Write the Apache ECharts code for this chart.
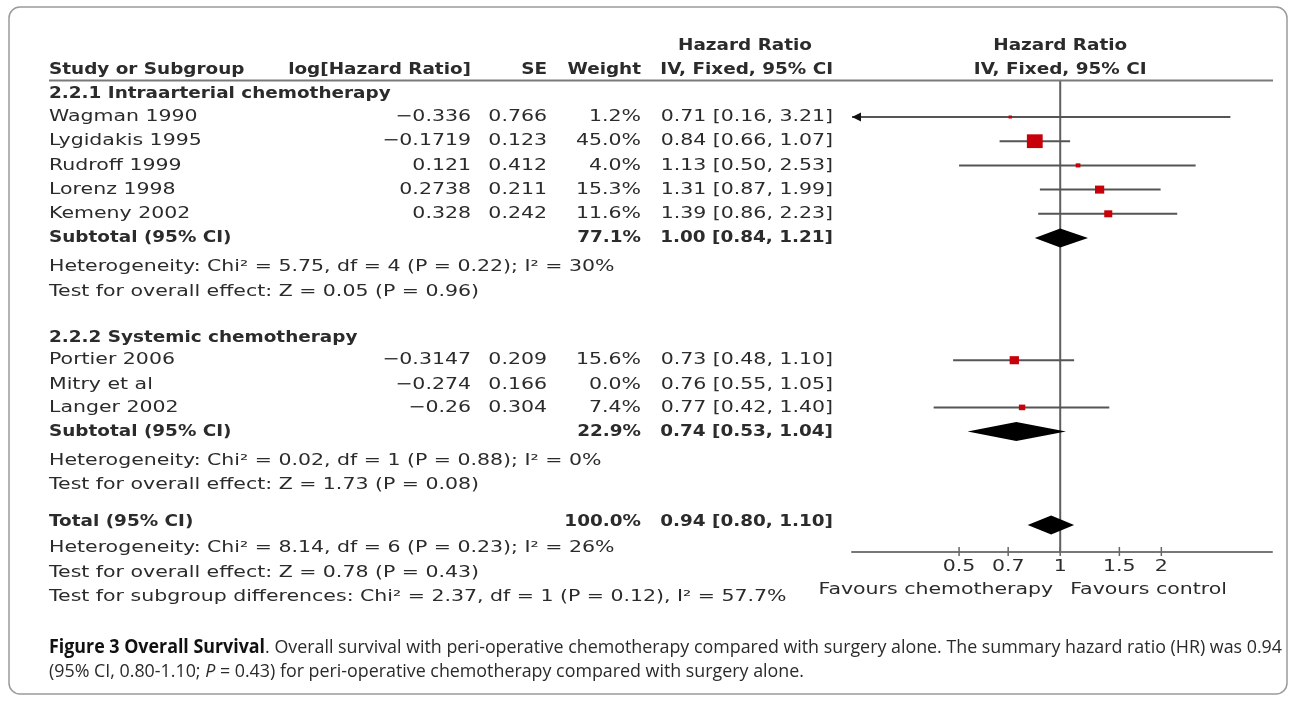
<!DOCTYPE html>
<html>
<head>
<meta charset="utf-8">
<script src="https://cdn.jsdelivr.net/npm/echarts@6/dist/echarts.min.js"></script>
<style>
  html, body { margin: 0; padding: 0; background: #fff; }
  #chart { width: 1291px; height: 708px; }
</style>
</head>
<body>
<div id="chart"></div>
<script>
// ---- Subgroup 2.2.1: intra-arterial chemotherapy ----
const group1Studies = ['Wagman 1990', 'Lygidakis 1995', 'Rudroff 1999', 'Lorenz 1998', 'Kemeny 2002'];
const group1LogHR  = ['\u22120.336', '\u22120.1719', '0.121', '0.2738', '0.328'];
const group1SE     = ['0.766', '0.123', '0.412', '0.211', '0.242'];
const group1Weight = [1.2, 45.0, 4.0, 15.3, 11.6];
const group1HR     = [0.71, 0.84, 1.13, 1.31, 1.39];
const group1Lower  = [0.16, 0.66, 0.50, 0.87, 0.86];
const group1Upper  = [3.21, 1.07, 2.53, 1.99, 2.23];

// ---- Subgroup 2.2.2: systemic chemotherapy ----
const group2Studies = ['Portier 2006', 'Mitry et al', 'Langer 2002'];
const group2LogHR  = ['\u22120.3147', '\u22120.274', '\u22120.26'];
const group2SE     = ['0.209', '0.166', '0.304'];
const group2Weight = [15.6, 0.0, 7.4];
const group2HR     = [0.73, 0.76, 0.77];
const group2Lower  = [0.48, 0.55, 0.42];
const group2Upper  = [1.10, 1.05, 1.40];

// ---- Pooled estimates: subtotal 1, subtotal 2, total ----
const pooledLabels = ['Subtotal (95% CI)', 'Subtotal (95% CI)', 'Total (95% CI)'];
const pooledWeight = [77.1, 22.9, 100.0];
const pooledHR     = [1.00, 0.74, 0.94];
const pooledLower  = [0.84, 0.53, 0.80];
const pooledUpper  = [1.21, 1.04, 1.10];

// ---- Heterogeneity and test lines ----
const group1Stats = ['Heterogeneity: Chi\u00b2 = 5.75, df = 4 (P = 0.22); I\u00b2 = 30%',
                     'Test for overall effect: Z = 0.05 (P = 0.96)'];
const group2Stats = ['Heterogeneity: Chi\u00b2 = 0.02, df = 1 (P = 0.88); I\u00b2 = 0%',
                     'Test for overall effect: Z = 1.73 (P = 0.08)'];
const totalStats  = ['Heterogeneity: Chi\u00b2 = 8.14, df = 6 (P = 0.23); I\u00b2 = 26%',
                     'Test for overall effect: Z = 0.78 (P = 0.43)',
                     'Test for subgroup differences: Chi\u00b2 = 2.37, df = 1 (P = 0.12), I\u00b2 = 57.7%'];

// ---- Axis ticks ----
const axisTicks  = [0.5, 0.7, 1, 1.5, 2];
const tickLabels = ['0.5', '0.7', '1', '1.5', '2'];

// ---- Layout: vertical slot of every line (row units on the y axis) ----
const ROW = {
  head1: -1.93, head2: -0.94,
  g1Title: 0.05, g1: [1, 2, 3, 4, 5], sub1: 6, g1Stats: [7.2, 8.23],
  g2Title: 10.13, g2: [11.05, 12.05, 13.0], sub2: 14.0, g2Stats: [15.2, 16.2],
  total: 17.74, totalMark: 17.86, totalStats: [18.8, 19.84, 20.83]
};
const Y_MIN = -0.4876, Y_MAX = 18.975;
const COL = { study: 49, logHR: 471, se: 547, weight: 641, ci: 833, ciHead: 745 };
const FONT = 'DejaVu Sans';
const SX_BOLD = 1.15;     // horizontal stretch of bold lettering
const SX_REG = 1.28;      // horizontal stretch of regular lettering
const INK = '#2b2b2b';

const fmt2 = v => v.toFixed(2);
const ciText = (hr, lo, hi) => `${fmt2(hr)} [${fmt2(lo)}, ${fmt2(hi)}]`;

// rows for the forest series: [lower, estimate, upper, slot, weight, kind(0 study / 1 pooled)]
const forestData = [];
group1Studies.forEach((s, i) => forestData.push([group1Lower[i], group1HR[i], group1Upper[i], ROW.g1[i], group1Weight[i], 0]));
group2Studies.forEach((s, i) => forestData.push([group2Lower[i], group2HR[i], group2Upper[i], ROW.g2[i], group2Weight[i], 0]));
const pooledSlots = [ROW.sub1, ROW.sub2, ROW.totalMark];
pooledHR.forEach((v, i) => forestData.push([pooledLower[i], v, pooledUpper[i], pooledSlots[i], pooledWeight[i], 1]));

function renderForest(params, api) {
  const lo = api.value(0), est = api.value(1), hi = api.value(2);
  const slot = api.value(3), w = api.value(4), kind = api.value(5);
  const cs = params.coordSys;
  const left = cs.x, right = cs.x + cs.width;
  const pLo = api.coord([lo, slot]), pEst = api.coord([est, slot]), pHi = api.coord([hi, slot]);
  const y = pEst[1];
  if (kind === 1) {
    const h = 9.5;
    return {
      type: 'polygon',
      shape: { points: [[pLo[0], y], [pEst[0], y - h], [pHi[0], y], [pEst[0], y + h]] },
      style: { fill: '#000' }
    };
  }
  if (!(w > 0)) return null;
  const x0 = Math.max(pLo[0], left), x1 = Math.min(pHi[0], right);
  const children = [{
    type: 'line', shape: { x1: x0, y1: y, x2: x1, y2: y },
    style: { stroke: '#555', lineWidth: 2 }
  }];
  if (pLo[0] < left) {
    children.push({ type: 'polygon', shape: { points: [[left, y], [left + 9, y - 4.5], [left + 9, y + 4.5]] }, style: { fill: '#111' } });
  }
  if (pHi[0] > right) {
    children.push({ type: 'polygon', shape: { points: [[right, y], [right - 9, y - 4.5], [right - 9, y + 4.5]] }, style: { fill: '#111' } });
  }
  const s = Math.max(3, 2.05 * Math.sqrt(w));
  children.push({
    type: 'rect', shape: { x: pEst[0] - s * 0.575, y: y - s / 2, width: s * 1.15, height: s },
    style: { fill: '#c8000a' }
  });
  return { type: 'group', children };
}

function renderRefLine(params, api) {
  const cs = params.coordSys;
  const x = api.coord([api.value(0), 0])[0];
  return { type: 'line', shape: { x1: x, y1: cs.y, x2: x, y2: cs.y + cs.height },
           style: { stroke: '#5f5f5f', lineWidth: 2 } };
}

// short tick marks crossing the axis line
function renderTick(params, api) {
  const p = api.coord([api.value(0), Y_MAX]);
  return { type: 'line', shape: { x1: p[0], y1: p[1] - 5, x2: p[0], y2: p[1] + 4 },
           style: { stroke: '#666', lineWidth: 1.5 } };
}

const chart = echarts.init(document.getElementById('chart'), null, { renderer: 'canvas' });

const option = {
  animation: false,
  backgroundColor: '#fff',
  grid: { left: 852, width: 420, top: 81, height: 471, containLabel: false },
  xAxis: {
    type: 'log', logBase: 10, min: 0.24, max: 4.27, position: 'bottom',
    axisLine: { show: true, onZero: false, lineStyle: { color: '#777', width: 2 } },
    axisTick: { show: false },
    axisLabel: { show: false },
    splitLine: { show: false }, minorTick: { show: false }
  },
  yAxis: { type: 'value', inverse: true, min: Y_MIN, max: Y_MAX, show: false },
  series: [
    { type: 'custom', renderItem: renderRefLine, data: [[1, 0]], encode: { x: 0, y: 1 }, z: 1, silent: true, clip: false },
    { type: 'custom', renderItem: renderTick, data: axisTicks.map(t => [t, Y_MAX]), encode: { x: 0, y: 1 }, z: 2, silent: true, clip: false },
    { type: 'custom', renderItem: renderForest, data: forestData,
      encode: { x: [0, 1, 2], y: 3 }, z: 3, silent: true, clip: false }
  ]
};
chart.setOption(option);

// ---- Table lettering, placed on the same scales as the plot ----
const yOf = slot => chart.convertToPixel({ yAxisIndex: 0 }, slot);
const xOf = v => chart.convertToPixel({ xAxisIndex: 0 }, v);

function txt(x, y, s, o = {}) {
  return {
    type: 'text', x: x, y: y,
    scaleX: o.bold ? SX_BOLD : SX_REG, scaleY: 1, silent: true, z: 10,
    style: {
      text: s, fill: o.color || INK,
      fontFamily: FONT, fontSize: o.size || 16, fontWeight: o.bold ? 'bold' : 'normal',
      align: o.align || 'left', verticalAlign: 'middle'
    }
  };
}
const row = (x, slot, s, o) => txt(x, yOf(slot), s, o);

const g = [];
// column headers
g.push(row(COL.ciHead, ROW.head1, 'Hazard Ratio', { bold: true, align: 'center' }));
g.push(row(COL.study, ROW.head2, 'Study or Subgroup', { bold: true }));
g.push(row(COL.logHR, ROW.head2, 'log[Hazard Ratio]', { bold: true, align: 'right' }));
g.push(row(COL.se, ROW.head2, 'SE', { bold: true, align: 'right' }));
g.push(row(COL.weight, ROW.head2, 'Weight', { bold: true, align: 'right' }));
g.push(row(COL.ci, ROW.head2, 'IV, Fixed, 95% CI', { bold: true, align: 'right' }));
const x1 = xOf(1);
g.push(row(x1, ROW.head1, 'Hazard Ratio', { bold: true, align: 'center' }));
g.push(row(x1, ROW.head2, 'IV, Fixed, 95% CI', { bold: true, align: 'center' }));

function studyRows(names, logs, ses, ws, hrs, los, his, slots) {
  names.forEach((n, i) => {
    const s = slots[i];
    g.push(row(COL.study, s, n));
    g.push(row(COL.logHR, s, logs[i], { align: 'right' }));
    g.push(row(COL.se, s, ses[i], { align: 'right' }));
    g.push(row(COL.weight, s, ws[i].toFixed(1) + '%', { align: 'right' }));
    g.push(row(COL.ci, s, ciText(hrs[i], los[i], his[i]), { align: 'right' }));
  });
}
function pooledRow(i, slot) {
  g.push(row(COL.study, slot, pooledLabels[i], { bold: true }));
  g.push(row(COL.weight, slot, pooledWeight[i].toFixed(1) + '%', { bold: true, align: 'right' }));
  g.push(row(COL.ci, slot, ciText(pooledHR[i], pooledLower[i], pooledUpper[i]), { bold: true, align: 'right' }));
}

g.push(row(COL.study, ROW.g1Title, '2.2.1 Intraarterial chemotherapy', { bold: true }));
studyRows(group1Studies, group1LogHR, group1SE, group1Weight, group1HR, group1Lower, group1Upper, ROW.g1);
pooledRow(0, ROW.sub1);
group1Stats.forEach((s, i) => g.push(row(COL.study, ROW.g1Stats[i], s)));

g.push(row(COL.study, ROW.g2Title, '2.2.2 Systemic chemotherapy', { bold: true }));
studyRows(group2Studies, group2LogHR, group2SE, group2Weight, group2HR, group2Lower, group2Upper, ROW.g2);
pooledRow(1, ROW.sub2);
group2Stats.forEach((s, i) => g.push(row(COL.study, ROW.g2Stats[i], s)));

pooledRow(2, ROW.total);
totalStats.forEach((s, i) => g.push(row(COL.study, ROW.totalStats[i], s)));

// tick labels and favours labels under the axis
const axisY = yOf(Y_MAX);
axisTicks.forEach((t, i) => g.push(txt(xOf(t), axisY + 15, tickLabels[i], { align: 'center' })));
g.push(txt(x1 - 7, axisY + 38, 'Favours chemotherapy', { align: 'right' }));
g.push(txt(x1 + 10, axisY + 38, 'Favours control'));

// rule under the column headers
g.push({ type: 'line', silent: true, z: 5,
  shape: { x1: COL.study, y1: yOf(Y_MIN) - 0.5, x2: 1273, y2: yOf(Y_MIN) - 0.5 },
  style: { stroke: '#7a7a7a', lineWidth: 2 } });

// caption below the plot, fitted to the panel width
const CAP_FONT = 'Open Sans';
const CAP_SIZE = 19;
const capLeft = 49, capRight = 1282;
const cap1Bold = 'Figure 3 Overall Survival';
const cap1Rest = '. Overall survival with peri-operative chemotherapy compared with surgery alone. The summary hazard ratio (HR) was 0.94';
const cap2a = '(95% CI, 0.80-1.10; ', cap2P = 'P', cap2b = ' = 0.43) for peri-operative chemotherapy compared with surgery alone.';
const mctx = document.createElement('canvas').getContext('2d');
const measure = (s, w) => { mctx.font = `normal ${w} ${CAP_SIZE}px "${CAP_FONT}"`; return mctx.measureText(s).width; };
const capW = measure(cap1Bold, 'bold') + measure(cap1Rest, 'normal');
const capSX = (capRight - capLeft) / capW;
const capRich = {
  b: { fontFamily: CAP_FONT, fontSize: CAP_SIZE, fontWeight: 'bold', fill: '#111' },
  r: { fontFamily: CAP_FONT, fontSize: CAP_SIZE, fontWeight: 'normal', fill: '#2a2a2a' },
  i: { fontFamily: CAP_FONT, fontSize: CAP_SIZE, fontWeight: 'normal', fontStyle: 'italic', fill: '#2a2a2a' }
};
g.push({ type: 'text', x: capLeft, y: 648, scaleX: capSX, silent: true, z: 10,
  style: { text: `{b|${cap1Bold}}{r|${cap1Rest}}`, rich: capRich, verticalAlign: 'middle', align: 'left' } });
g.push({ type: 'text', x: capLeft, y: 672, scaleX: capSX, silent: true, z: 10,
  style: { text: `{r|${cap2a}}{i|${cap2P}}{r|${cap2b}}`, rich: capRich, verticalAlign: 'middle', align: 'left' } });

// panel frame
g.push({ type: 'rect', silent: true, z: 0,
  shape: { x: 9, y: 7, width: 1278, height: 687, r: 11 },
  style: { fill: 'none', stroke: '#9a9a9a', lineWidth: 1.5 } });

chart.setOption({ graphic: g });
</script>
</body>
</html>
